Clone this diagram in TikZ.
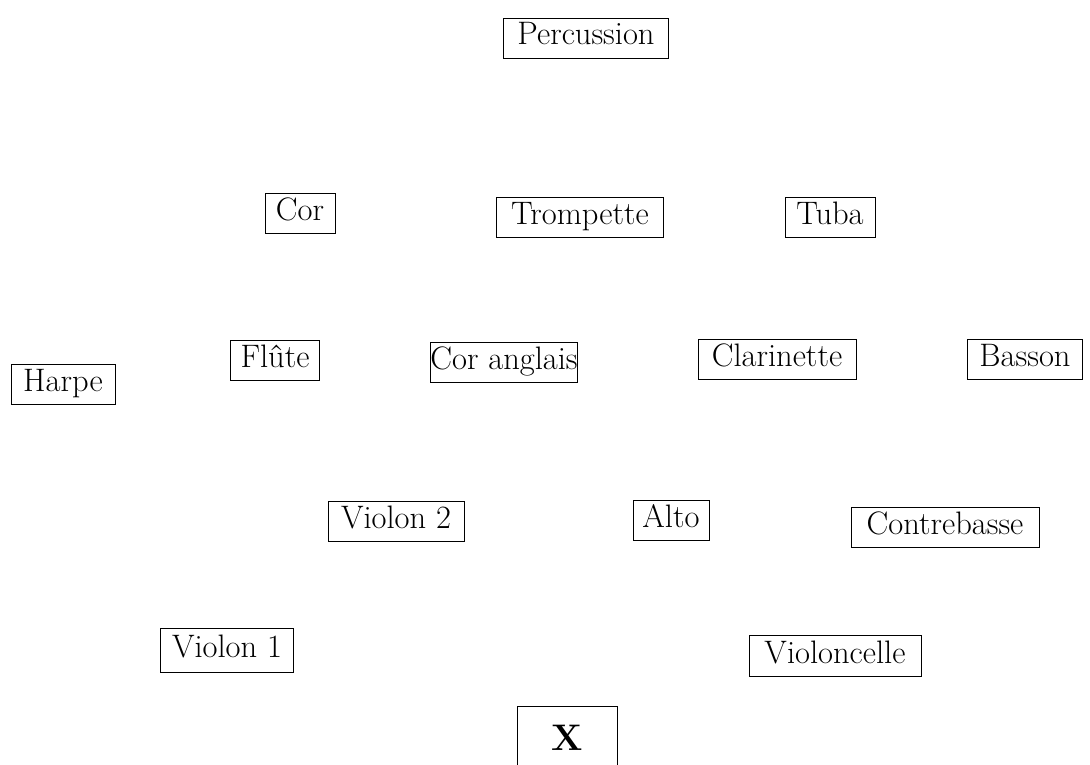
\documentclass[tikz,border=0pt]{standalone}
\begin{document}
\begin{tikzpicture}[x=1pt,y=-1pt,
  inst/.style={draw, line width=0.8pt, font=\fontsize{32.5}{38}\selectfont,
    text height=22pt, text depth=8pt, inner xsep=0pt, inner ysep=5pt, minimum height=40pt},
  conductor/.style={draw, line width=0.8pt, font=\fontsize{37}{42}\selectfont\bfseries,
    minimum width=100pt, minimum height=64pt, inner sep=0pt}]
\useasboundingbox (0,0) rectangle (1090,765);
\node[inst, minimum width=165pt] (perc) at (586,38) {Percussion};
\node[inst, minimum width=70pt]  (cor)  at (300,213) {Cor};
\node[inst, minimum width=167pt] (tromp) at (580,217) {Trompette};
\node[inst, minimum width=90pt]  (tuba) at (830,217) {Tuba};
\node[inst, minimum width=89pt]  (flute) at (275,360) {Flûte};
\node[inst, minimum width=146pt] (coran) at (504,362) {Cor anglais};
\node[inst, minimum width=158pt] (clar) at (777,359) {Clarinette};
\node[inst, minimum width=115pt] (basson) at (1025,359) {Basson};
\node[inst, minimum width=104pt] (harpe) at (63,384) {Harpe};
\node[inst, minimum width=136pt] (v2) at (396,521) {Violon 2};
\node[inst, minimum width=76pt]  (alto) at (671,520) {Alto};
\node[inst, minimum width=188pt] (cb) at (945,527) {Contrebasse};
\node[inst, minimum width=133pt, minimum height=44pt] (v1) at (227,650) {Violon 1};
\node[inst, minimum width=172pt, minimum height=41pt] (vc) at (835,656) {Violoncelle};
\node[conductor] (chef) at (567,738) {X};
\end{tikzpicture}
\end{document}
